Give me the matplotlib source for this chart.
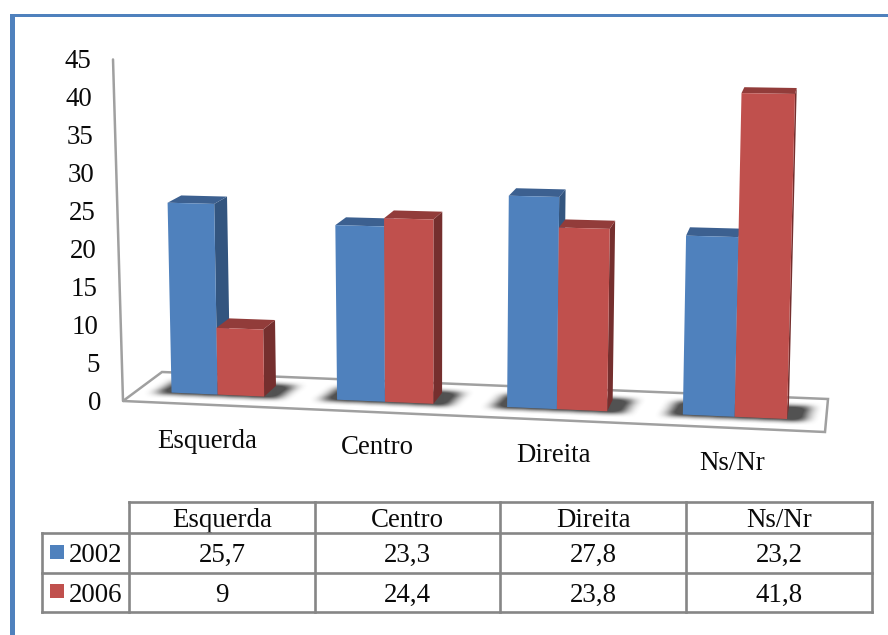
import numpy as np
import matplotlib
matplotlib.use("Agg")
import matplotlib.pyplot as plt
from matplotlib.patches import Polygon, Rectangle
from matplotlib.path import Path

categories = ["Esquerda", "Centro", "Direita", "Ns/Nr"]
series_names = ["2002", "2006"]
values_2002 = [25.7, 23.3, 27.8, 23.2]
values_2006 = [9, 24.4, 23.8, 41.8]
axis_ticks = [0, 5, 10, 15, 20, 25, 30, 35, 40, 45]

BLUE = {"front": "#4F81BD", "top": "#3C6090", "side": "#33557F"}
RED = {"front": "#C0504D", "top": "#923C3A", "side": "#752F2E"}
GRID = "#868686"
FLOOR_EDGE = "#A0A0A0"
INK = "#0A0A0A"

plt.rcParams["font.family"] = ["Liberation Serif", "DejaVu Serif"]
FS = 19.4

# Floor plane: perspective map from (slot, depth) to canvas pixels
floor_src = np.array([[0, 0], [4, 0], [4, 1], [0, 1]], float)
floor_dst = np.array([[123, 401], [825, 432], [828, 399], [162, 372]], float)


def solve_homography(src, dst):
    rows, rhs = [], []
    for (a, b), (p, q) in zip(src, dst):
        rows.append([a, b, 1, 0, 0, 0, -a * p, -b * p])
        rows.append([0, 0, 0, a, b, 1, -a * q, -b * q])
        rhs += [p, q]
    return np.append(np.linalg.solve(np.array(rows), np.array(rhs)), 1).reshape(3, 3)


H = solve_homography(floor_src, floor_dst)
LEAN_X = [170, 337, 507, 684, 787]
LEAN_K = [-0.021, -0.010, 0.008, 0.018, 0.0245]


def project(u, d, z=0.0):
    w = H @ np.array([u, d, 1.0])
    x, y = w[0] / w[2], w[1] / w[2]
    scale = (7.4 + (x - 190) * 0.00063) * (1 - 0.05 * (d - DEPTH_FRONT))
    h = scale * z
    return x + np.interp(x, LEAN_X, LEAN_K) * h, y - h


def wall_point(z):
    return 123 - 0.222 * z, 401 - 7.59 * z


DEPTH_FRONT, DEPTH_BACK = 0.33, 0.69
SLOT_CENTRES = [0.505, 1.515, 2.513, 3.505]
HALF_BAR = 0.285

fig = plt.figure(figsize=(8.88, 6.35), dpi=100)
ax = fig.add_axes([0, 0, 1, 1])
ax.set_xlim(0, 888)
ax.set_ylim(635, 0)
ax.axis("off")

# Page frame
ax.add_patch(Rectangle((9.5, 14), 5.5, 621, fc="#4F81BD", ec="none", zorder=1))
ax.add_patch(Rectangle((9.5, 14), 878.5, 3.3, fc="#4F81BD", ec="none", zorder=1))

# Floor and vertical axis
floor = [project(u, d) for u, d in [(0, 0), (4, 0), (4, 1), (0, 1)]]
ax.add_patch(Polygon(floor, closed=True, fc="white", ec=FLOOR_EDGE, lw=1.8, zorder=2))
ax.plot(*zip(wall_point(0), wall_point(45)), color=FLOOR_EDGE, lw=1.8, zorder=2,
        solid_capstyle="round")


def box_blur(a, rx, ry):
    for axis, r in ((1, rx), (0, ry)):
        kernel = np.ones(2 * r + 1) / (2 * r + 1)
        for _ in range(2):
            a = np.apply_along_axis(lambda m: np.convolve(m, kernel, mode="same"), axis, a)
    return a


# Soft contact shadows under each pair of bars
X0, Y0, SW, SH = 130, 360, 700, 75
xx, yy = np.meshgrid(np.arange(X0, X0 + SW) + 0.5, np.arange(Y0, Y0 + SH) + 0.5)
grid = np.column_stack([xx.ravel(), yy.ravel()])
mask = np.zeros(xx.shape)
for c in SLOT_CENTRES:
    outline = [project(c - HALF_BAR - 0.085, DEPTH_FRONT - 0.05),
               project(c + HALF_BAR + 0.09, DEPTH_FRONT - 0.05),
               project(c + HALF_BAR + 0.11, DEPTH_BACK + 0.05),
               project(c - HALF_BAR - 0.06, DEPTH_BACK + 0.05)]
    mask += Path(outline).contains_points(grid).reshape(xx.shape)
mask = box_blur(mask, 7, 2)
rgba = np.zeros(xx.shape + (4,))
rgba[..., :3] = 0.2
rgba[..., 3] = np.clip(mask * 1.1, 0, 0.85)
ax.imshow(rgba, extent=(X0, X0 + SW, Y0 + SH, Y0), interpolation="bilinear",
          aspect="auto", zorder=3)
ax.set_xlim(0, 888)
ax.set_ylim(635, 0)


def draw_bar(u0, u1, value, colours):
    d0, d1 = DEPTH_FRONT, DEPTH_BACK
    side = [project(u1, d0), project(u1, d1), project(u1, d1, value), project(u1, d0, value)]
    top = [project(u0, d0, value), project(u1, d0, value),
           project(u1, d1, value), project(u0, d1, value)]
    front = [project(u0, d0), project(u1, d0), project(u1, d0, value), project(u0, d0, value)]
    for pts, key in ((side, "side"), (top, "top"), (front, "front")):
        ax.add_patch(Polygon(pts, closed=True, fc=colours[key], ec="none", zorder=4))


for c, a, b in zip(SLOT_CENTRES, values_2002, values_2006):
    draw_bar(c - HALF_BAR, c, a, BLUE)
    draw_bar(c, c + HALF_BAR, b, RED)

# Value axis labels follow the slanted axis line
for t in axis_ticks:
    x, y = wall_point(t)
    ax.text(x - 22, y + 9, str(t), ha="right", va="baseline", fontsize=FS, color=INK)

# Category labels under the floor
label_centres = [(207, 448), (377, 454), (553, 462), (732, 470)]
for name, (x, y) in zip(categories, label_centres):
    ax.text(x, y, name, ha="center", va="baseline", fontsize=FS, color=INK)

# Data table
col_edges = [129, 315, 500, 686, 872]
row_edges = [502, 533, 572.5, 612]
table_lw = 1.9
ax.plot([col_edges[0], col_edges[-1]], [row_edges[0]] * 2, color=GRID, lw=table_lw, zorder=5)
for y in row_edges[1:]:
    ax.plot([41.5, col_edges[-1]], [y, y], color=GRID, lw=table_lw, zorder=5)
for x in col_edges:
    ax.plot([x, x], [row_edges[0], row_edges[-1]], color=GRID, lw=table_lw, zorder=5)
ax.plot([41.5, 41.5], [row_edges[1], row_edges[-1]], color=GRID, lw=table_lw, zorder=5)

col_centres = [(l + r) / 2 for l, r in zip(col_edges[:-1], col_edges[1:])]
for x, name in zip(col_centres, categories):
    ax.text(x, 527, name, ha="center", va="baseline", fontsize=FS, color=INK)


def fmt(v):
    return f"{v:g}".replace(".", ",")


rows = [(series_names[0], values_2002, BLUE["front"], 545, 562),
        (series_names[1], values_2006, RED["front"], 584, 601.5)]
for name, vals, colour, swatch_y, base in rows:
    ax.add_patch(Rectangle((50, swatch_y), 14, 14, fc=colour, ec="none", zorder=6))
    ax.text(69, base, name, ha="left", va="baseline", fontsize=FS, color=INK)
    for x, v in zip(col_centres, vals):
        ax.text(x, base, fmt(v), ha="center", va="baseline", fontsize=FS, color=INK)

fig.savefig("out.png", dpi=100, facecolor="white")
